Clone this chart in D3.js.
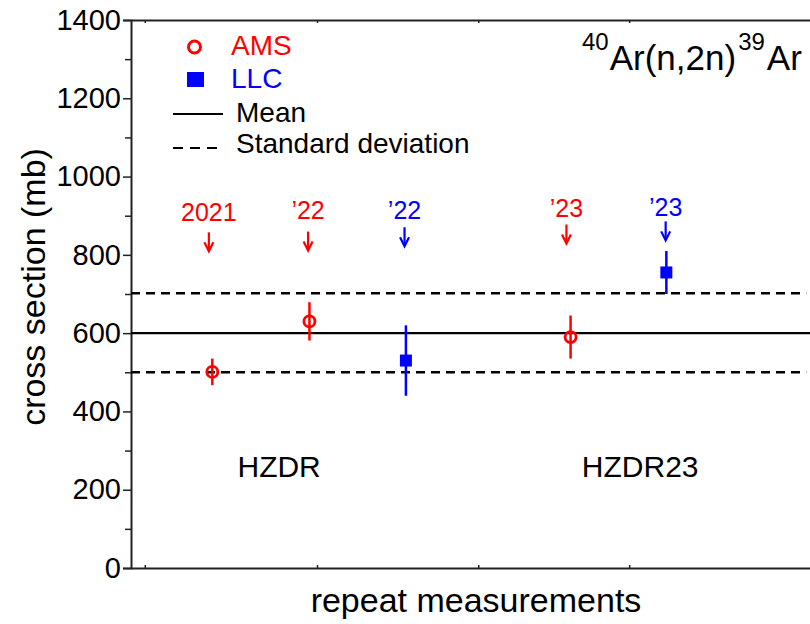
<!DOCTYPE html>
<html lang="en">
<head>
    <meta charset="UTF-8">
    <title>40Ar(n,2n)39Ar cross section</title>
    <style>
        body { margin: 0; background: #fff; }
        text { font-family: "Liberation Sans", Arial, sans-serif; }
    </style>
</head>
<body>
<script src="https://d3js.org/d3.v7.min.js"></script>
<script>
    // AMS measurements (red open circles)
    const amsX = [1.18, 2.59, 6.38];
    const amsY = [501, 630, 590];
    const amsErr = [34, 49, 55];

    // LLC measurements (blue squares)
    const llcX = [3.99, 7.77];
    const llcY = [530, 755];
    const llcErr = [90, 55];

    // mean and standard deviation band
    const meanValue = 600;
    const sdValues = [500, 702];

    // year annotations with arrows
    const annotLabels = ["2021", "\u201922", "\u201922", "\u201923", "\u201923"];
    const annotX = [1.13, 2.57, 3.97, 6.32, 7.76];
    const annotColors = ["red", "red", "blue", "red", "blue"];
    const annotTip = [809, 811, 822, 829, 837];
    const annotText = [886, 891, 891, 896, 898];

    // facility labels
    const siteLabels = ["HZDR", "HZDR23"];
    const siteX = [2.15, 7.39];
    const siteY = 233;

    // axes
    const yMajor = [0, 200, 400, 600, 800, 1000, 1200, 1400];
    const yMinor = [100, 300, 500, 700, 900, 1100, 1300];
    const xTicks = [0.2, 2.7, 5.04, 7.23];

    const width = 810, height = 624;
    const margin = {left: 131, top: 20, right: -10, bottom: 56};

    const svg = d3.select("body").append("svg")
        .attr("width", width)
        .attr("height", height);

    const x = d3.scaleLinear()
        .domain([0, 10])
        .range([margin.left, width - margin.right]);
    const y = d3.scaleLinear()
        .domain([0, 1400])
        .range([height - margin.bottom, margin.top]);

    const colorOf = {red: "#ff0000", blue: "#0000ff"};

    // left axis, major and minor ticks
    const left = svg.append("g")
        .attr("transform", `translate(${margin.left},0)`)
        .call(d3.axisLeft(y).tickValues(yMajor).tickSize(8).tickPadding(2).tickFormat(d3.format("d")));
    left.selectAll("text").attr("font-size", 29).attr("fill", "#000")
        .style("font-family", "'Liberation Sans', Arial, sans-serif");
    svg.append("g")
        .attr("transform", `translate(${margin.left},0)`)
        .call(d3.axisLeft(y).tickValues(yMinor).tickSize(6).tickFormat(""))
        .select(".domain").remove();

    // bottom and top axes, small inward ticks
    svg.append("g")
        .attr("transform", `translate(0,${y(0)})`)
        .call(d3.axisBottom(x).tickValues(xTicks).tickSizeInner(-3).tickSizeOuter(0).tickFormat(""));
    svg.append("g")
        .attr("transform", `translate(0,${y(1400)})`)
        .call(d3.axisTop(x).tickValues(xTicks).tickSizeInner(-3).tickSizeOuter(0).tickFormat(""));

    svg.selectAll(".domain").attr("stroke", "#222").attr("stroke-width", 2);
    svg.selectAll(".tick line").attr("stroke", "#222").attr("stroke-width", 1.5);

    // mean and sd lines
    svg.append("line")
        .attr("x1", x(0)).attr("x2", x(10))
        .attr("y1", y(meanValue)).attr("y2", y(meanValue))
        .attr("stroke", "#000").attr("stroke-width", 2.2);
    svg.selectAll(".sd")
        .data(sdValues)
        .enter().append("line")
        .attr("x1", x(0)).attr("x2", x(9.8))
        .attr("y1", d => y(d)).attr("y2", d => y(d))
        .attr("stroke", "#000").attr("stroke-width", 2.4)
        .attr("stroke-dasharray", "9,6");

    // AMS points
    amsX.forEach((d, i) => {
        svg.append("line")
            .attr("x1", x(d)).attr("x2", x(d))
            .attr("y1", y(amsY[i] - amsErr[i])).attr("y2", y(amsY[i] + amsErr[i]))
            .attr("stroke", colorOf.red).attr("stroke-width", 2.5);
        svg.append("circle")
            .attr("cx", x(d)).attr("cy", y(amsY[i]))
            .attr("r", 5.5)
            .attr("fill", "none")
            .attr("stroke", colorOf.red).attr("stroke-width", 2.8);
    });

    // LLC points
    llcX.forEach((d, i) => {
        svg.append("line")
            .attr("x1", x(d)).attr("x2", x(d))
            .attr("y1", y(llcY[i] - llcErr[i])).attr("y2", y(llcY[i] + llcErr[i]))
            .attr("stroke", colorOf.blue).attr("stroke-width", 2.5);
        svg.append("rect")
            .attr("x", x(d) - 6).attr("y", y(llcY[i]) - 6)
            .attr("width", 12).attr("height", 12)
            .attr("fill", colorOf.blue);
    });

    // year annotations
    annotX.forEach((d, i) => {
        const c = colorOf[annotColors[i]];
        const tip = y(annotTip[i]);
        svg.append("text")
            .attr("x", x(d)).attr("y", y(annotText[i]))
            .attr("text-anchor", "middle")
            .attr("font-size", 25)
            .attr("fill", c)
            .text(annotLabels[i]);
        svg.append("line")
            .attr("x1", x(d)).attr("x2", x(d))
            .attr("y1", tip - 19).attr("y2", tip - 1)
            .attr("stroke", c).attr("stroke-width", 2.2);
        svg.append("path")
            .attr("d", `M${x(d) - 4.5},${tip - 9}L${x(d)},${tip}L${x(d) + 4.5},${tip - 9}`)
            .attr("fill", "none")
            .attr("stroke", c).attr("stroke-width", 2.2);
    });

    // facility labels
    siteLabels.forEach((s, i) => {
        svg.append("text")
            .attr("x", x(siteX[i])).attr("y", y(siteY))
            .attr("text-anchor", "middle")
            .attr("font-size", 30)
            .text(s);
    });

    // reaction title
    const title = svg.append("text")
        .attr("x", 582).attr("y", 70)
        .attr("font-size", 35);
    title.append("tspan").attr("font-size", 24).attr("dy", -20).text("40");
    title.append("tspan").attr("dy", 20).attr("dx", 1).text("Ar(n,2n)");
    title.append("tspan").attr("font-size", 24).attr("dy", -20).attr("dx", 2).text("39");
    title.append("tspan").attr("dy", 20).attr("dx", 2).text("Ar");

    // legend
    const lg = svg.append("g");
    lg.append("circle").attr("cx", 194.5).attr("cy", 47).attr("r", 6)
        .attr("fill", "none").attr("stroke", colorOf.red).attr("stroke-width", 3);
    lg.append("text").attr("x", 231).attr("y", 55).attr("font-size", 28)
        .attr("fill", colorOf.red).text("AMS");
    lg.append("rect").attr("x", 187).attr("y", 72).attr("width", 17).attr("height", 15)
        .attr("fill", colorOf.blue);
    lg.append("text").attr("x", 231).attr("y", 88).attr("font-size", 28)
        .attr("fill", colorOf.blue).text("LLC");
    lg.append("line").attr("x1", 173).attr("x2", 223).attr("y1", 114).attr("y2", 114)
        .attr("stroke", "#000").attr("stroke-width", 2);
    lg.append("text").attr("x", 236).attr("y", 122).attr("font-size", 28).text("Mean");
    lg.append("line").attr("x1", 173).attr("x2", 223).attr("y1", 148).attr("y2", 148)
        .attr("stroke", "#000").attr("stroke-width", 2).attr("stroke-dasharray", "10,7");
    lg.append("text").attr("x", 236).attr("y", 153).attr("font-size", 28).text("Standard deviation");

    // axis titles
    svg.append("text")
        .attr("transform", "translate(45,287) rotate(-90)")
        .attr("text-anchor", "middle")
        .attr("font-size", 34)
        .text("cross section (mb)");
    svg.append("text")
        .attr("x", 476).attr("y", 612)
        .attr("text-anchor", "middle")
        .attr("font-size", 34)
        .text("repeat measurements");
</script>
</body>
</html>
